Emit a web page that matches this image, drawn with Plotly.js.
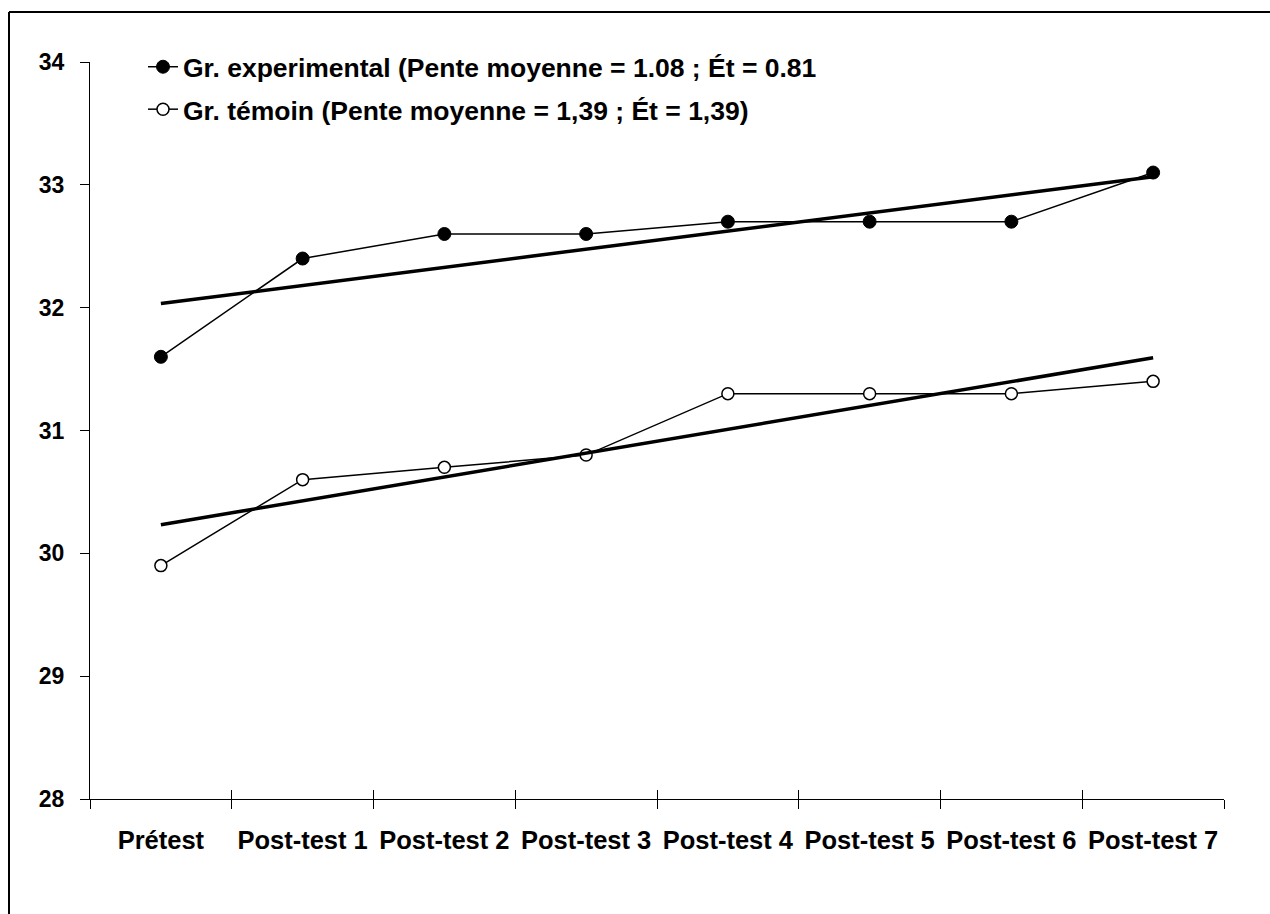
<!DOCTYPE html>
<html>
<head>
<meta charset="utf-8">
<script src="https://cdn.plot.ly/plotly-3.0.1.min.js"></script>
<style>
  html, body { margin: 0; padding: 0; background: #ffffff; }
  #chart { width: 1270px; height: 914px; }
</style>
</head>
<body>
<div id="chart"></div>
<script>
// ---- Data ----
const categories = ["Prétest", "Post-test 1", "Post-test 2", "Post-test 3", "Post-test 4", "Post-test 5", "Post-test 6", "Post-test 7"];
const experimental = [31.6, 32.4, 32.6, 32.6, 32.7, 32.7, 32.7, 33.1];
const temoin = [29.9, 30.6, 30.7, 30.8, 31.3, 31.3, 31.3, 31.4];
const seriesNames = [
  "Gr. experimental (Pente moyenne = 1.08 ; Ét = 0.81",
  "Gr. témoin (Pente moyenne = 1,39 ; Ét = 1,39)"
];
const yTickValues = [28, 29, 30, 31, 32, 33, 34];

// Linear (least squares) trend line over category index, like a spreadsheet trendline
function trend(vals) {
  const n = vals.length;
  const xs = vals.map((_, i) => i + 1);
  const mx = xs.reduce((a, b) => a + b, 0) / n;
  const my = vals.reduce((a, b) => a + b, 0) / n;
  let sxy = 0, sxx = 0;
  for (let i = 0; i < n; i++) { sxy += (xs[i] - mx) * (vals[i] - my); sxx += (xs[i] - mx) ** 2; }
  const b = sxy / sxx, a = my - b * mx;
  return [a + b * xs[0], a + b * xs[n - 1]];
}

const FONT = "Liberation Sans, Arial, sans-serif";

const traces = [
  {
    x: categories, y: experimental, type: "scatter", mode: "lines+markers",
    name: seriesNames[0], legendgroup: "g1",
    line: { color: "#000000", width: 1.5 },
    marker: { symbol: "circle", size: 13, color: "#000000", line: { color: "#000000", width: 1 } },
    hoverinfo: "skip"
  },
  {
    x: categories, y: temoin, type: "scatter", mode: "lines+markers",
    name: seriesNames[1], legendgroup: "g2",
    line: { color: "#000000", width: 1.5 },
    marker: { symbol: "circle", size: 12, color: "#ffffff", line: { color: "#000000", width: 1.5 } },
    hoverinfo: "skip"
  },
  {
    x: [categories[0], categories[categories.length - 1]], y: trend(experimental),
    type: "scatter", mode: "lines", showlegend: false,
    line: { color: "#000000", width: 3.5 }, hoverinfo: "skip"
  },
  {
    x: [categories[0], categories[categories.length - 1]], y: trend(temoin),
    type: "scatter", mode: "lines", showlegend: false,
    line: { color: "#000000", width: 3.5 }, hoverinfo: "skip"
  },
  // empty trace to instantiate the overlay axis (inner halves of x ticks)
  { x: [], y: [], xaxis: "x2", type: "scatter", mode: "markers", showlegend: false, hoverinfo: "skip" }
];

// plot area in pixels: left 90, right 1224, top 62, bottom 799
const L = 90, R = 1224, T = 62, B = 799;
const W = R - L, H = B - T;
const px = v => (v - L) / W;
const py = v => (B - v) / H;

const layout = {
  width: 1270, height: 914,
  margin: { l: L, r: 1270 - R, t: T, b: 914 - B, pad: 0 },
  paper_bgcolor: "#ffffff", plot_bgcolor: "#ffffff",
  font: { family: FONT, color: "#000000" },
  showlegend: true,
  legend: {
    x: px(143), y: py(43), xanchor: "left", yanchor: "top",
    xref: "paper", yref: "paper",
    bgcolor: "rgba(0,0,0,0)", borderwidth: 0,
    font: { family: FONT, size: 26.5, color: "#000000", weight: "bold" },
    traceorder: "grouped", tracegroupgap: 5,
    itemclick: false, itemdoubleclick: false
  },
  xaxis: {
    type: "category", categoryorder: "array", categoryarray: categories,
    range: [-0.5, categories.length - 0.5],
    showline: true, linecolor: "#000000", linewidth: 1,
    showgrid: false, zeroline: false,
    ticks: "outside", ticklen: 9, tickwidth: 1, tickcolor: "#000000",
    tickson: "boundaries",
    ticklabelstandoff: 18,
    tickfont: { family: FONT, size: 25.5, color: "#000000", weight: "bold" },
    fixedrange: true
  },
  xaxis2: {
    overlaying: "x", anchor: "y", side: "bottom",
    type: "linear", range: [-0.5, categories.length - 0.5],
    tickmode: "array", tickvals: categories.map((_, i) => i - 0.5).concat([categories.length - 0.5]),
    showticklabels: false, showline: false, showgrid: false, zeroline: false,
    ticks: "inside", ticklen: 9, tickwidth: 1, tickcolor: "#000000",
    fixedrange: true
  },
  yaxis: {
    range: [28, 34], tickmode: "array", tickvals: yTickValues,
    showline: true, linecolor: "#000000", linewidth: 1,
    showgrid: false, zeroline: false,
    ticks: "outside", ticklen: 9, tickwidth: 1, tickcolor: "#000000",
    ticklabelstandoff: 11,
    tickfont: { family: FONT, size: 23, color: "#000000", weight: "bold" },
    fixedrange: true
  },
  shapes: [
    { type: "line", xref: "paper", yref: "paper", x0: px(9), y0: py(12), x1: px(1275), y1: py(12),
      line: { color: "#000000", width: 2 } },
    { type: "line", xref: "paper", yref: "paper", x0: px(9), y0: py(12), x1: px(9), y1: py(920),
      line: { color: "#000000", width: 2 } }
  ]
};

Plotly.newPlot("chart", traces, layout, { displayModeBar: false, staticPlot: true });
</script>
</body>
</html>
